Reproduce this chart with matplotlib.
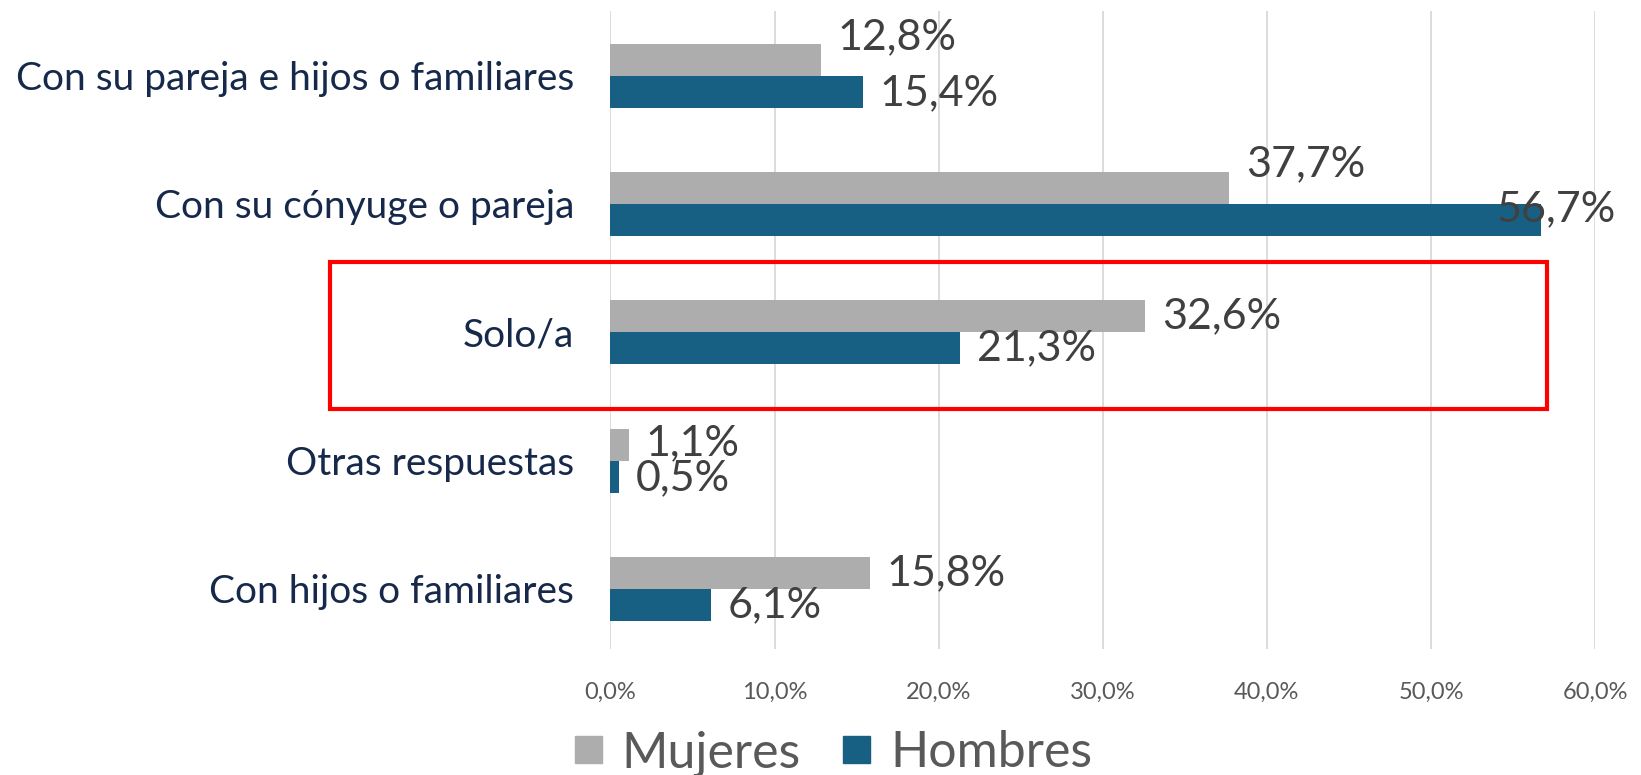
import numpy as np
import matplotlib.pyplot as plt
from matplotlib.patches import Rectangle, Patch

plt.rcParams['font.family'] = ['Lato', 'DejaVu Sans']

categorias = ['Con su pareja e hijos o familiares', 'Con su cónyuge o pareja',
              'Solo/a', 'Otras respuestas', 'Con hijos o familiares']
mujeres = [12.8, 37.7, 32.6, 1.1, 15.8]
hombres = [15.4, 56.7, 21.3, 0.5, 6.1]
ticks = [0, 10, 20, 30, 40, 50, 60]

gris = '#adadad'
azul = '#176083'

fig = plt.figure(figsize=(16.41, 7.75), dpi=100)
ax = fig.add_axes([0.372, 0.163, 0.600, 0.823])

y = np.arange(len(categorias))[::-1]
h = 0.25
ax.barh(y + h / 2, mujeres, height=h, color=gris, zorder=3, label='Mujeres')
ax.barh(y - h / 2, hombres, height=h, color=azul, zorder=3, label='Hombres')

# desplazamientos de las etiquetas (puntos)
off_m = [(12, 16), (12, 17), (12, 0), (12, 1), (12, 0)]
off_h = [(12, -1), (-32, 8), (12, 0), (12, -1), (12, 0)]
for i in range(len(categorias)):
    ax.annotate(f'{mujeres[i]:.1f}%'.replace('.', ','), (mujeres[i], y[i] + h / 2),
                xytext=off_m[i], textcoords='offset points', va='center', ha='left',
                fontsize=31, color='#404040', zorder=4)
    ax.annotate(f'{hombres[i]:.1f}%'.replace('.', ','), (hombres[i], y[i] - h / 2),
                xytext=off_h[i], textcoords='offset points', va='center', ha='left',
                fontsize=31, color='#404040', zorder=4)

ax.set_xlim(0, 60)
ax.set_ylim(-0.465, 4.505)
ax.set_xticks(ticks)
ax.set_xticklabels([f'{t:.1f}%'.replace('.', ',') for t in ticks], fontsize=17, color='#595959')
ax.set_yticks(y)
ax.set_yticklabels(categorias, fontsize=28, color='#16294a')
ax.tick_params(axis='both', length=0)
ax.tick_params(axis='x', pad=24)
ax.tick_params(axis='y', pad=26)
ax.grid(axis='x', color='#d9d9d9', linewidth=1.3, zorder=0)
for s in ax.spines.values():
    s.set_visible(False)

leg = fig.legend(handles=[Patch(color=gris, label='Mujeres'), Patch(color=azul, label='Hombres')],
                 loc='center', bbox_to_anchor=(0.508, 0.028), ncol=2, frameon=False,
                 fontsize=36, handlelength=0.54, handleheight=0.45, handletextpad=0.4,
                 columnspacing=0.85, borderpad=0)
for t in leg.get_texts():
    t.set_color('#595959')

fig.patches.append(Rectangle((330 / 1641, 1 - 409 / 775), 1217 / 1641, 147 / 775,
                             transform=fig.transFigure, fill=False,
                             edgecolor='#ff0000', linewidth=3))

fig.savefig('out.png', dpi=100)
